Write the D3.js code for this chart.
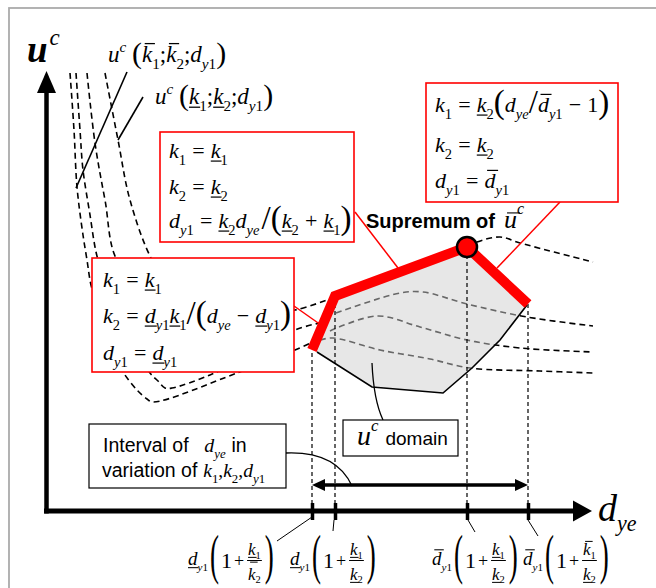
<!DOCTYPE html>
<html><head><meta charset="utf-8">
<script src="https://cdn.jsdelivr.net/npm/d3@7"></script>
<style>html,body{margin:0;padding:0;background:#fff;}svg{display:block;}</style>
</head><body>
<script>
const SERIF = "'Liberation Serif','Times New Roman',serif";
const SANS = "'Liberation Sans',Arial,sans-serif";

// ---------- data (x: d_ye units, y: u^c units, origin at the axes corner) ----------
const tickX = [267, 290, 422, 483];
const upperBound = [[267,161],[290,215],[422,264],[483,207]];
const lowerBound = [[272,159],[327,124],[398,118],[427,143],[455,171],[482,206]];
const isoA_left  = [[42,438],[50,368],[60,311],[72,251],[105,221],[205,196],[250,201],[285,212]];
const isoA_right = [[291,198],[355,218],[378,219],[422,207],[482,194],[548,185]];
const isoB_left  = [[31,438],[35,381],[38,341],[45,296],[50,264],[53,251],[65,211],[90,161],[105,138],[113,130],[120,123],[127,123],[165,136],[215,161],[250,181],[279,189]];
const isoB_right = [[285,180],[332,195],[375,184],[422,171],[475,163],[548,159]];
const isoC_left  = [[25,438],[29,381],[32,324],[38,276],[42,251],[46,226],[55,196],[67,161],[78,139],[92,121],[102,112],[108,109],[192,138],[250,161],[270,170]];
const isoC_right = [[275,171],[288,173],[335,161],[385,152],[425,143],[495,140],[548,138]];
const isoD       = [[60,438],[73,371],[85,311],[107,251],[135,211],[175,181]];
const isoTop     = [[423,264],[432,269],[455,274],[475,268],[548,249]];
const solidUpper = [[82,439],[31,323]];
const solidLower = [[98,414],[73,371]];
const intervalY = 26;
// tick label decorations: ul = underline (lower bound), ol = overline (upper bound)
const labelD  = ["ul","ul","ol","ol"];
const labelK1 = ["ul","ul","ul","ol"];
const labelK2 = ["ol","ul","ul","ul"];

const W = 656, H = 588;
const x = d3.scaleLinear().domain([0,550]).range([45,595]);
const y = d3.scaleLinear().domain([0,440]).range([511,71]);

const svg = d3.select("body").append("svg").attr("width",W).attr("height",H);
svg.append("rect").attr("width",W).attr("height",H).attr("fill","#fff");
svg.append("rect").attr("x",9).attr("y",8).attr("width",720).attr("height",720)
  .attr("fill","none").attr("stroke","#ababab").attr("stroke-width",1.8);

// ---------- text helper ----------
const v = (s,o={})=>Object.assign({s,i:true},o);
const n = (s,o={})=>Object.assign({s},o);
const sb = (s,o={})=>Object.assign({s,f:0.66,dy:0.3},o);
const isb = (s,o={})=>Object.assign({s,i:true,f:0.66,dy:0.3},o);
const sp = (s,o={})=>Object.assign({s,i:true,f:0.66,dy:-0.45},o);
const G = k=>({gap:k});
const OP = s=>[G(0.28), n(s), G(0.28)];
const LP = ()=>n("(",{f:1.5,dy:0.06}), RP = ()=>n(")",{f:1.5,dy:0.06}), SL = ()=>n("/",{f:1.5,dy:0.06});

function eq(g, x0, y0, toks, fs) {
  let cx = x0;
  toks.forEach(t => {
    if (t.gap !== undefined) { cx += t.gap*fs; return; }
    const sz = fs*(t.f||1);
    const yy = y0 + (t.dy||0)*fs;
    const el = g.append("text").attr("x",cx).attr("y",yy)
      .attr("font-family", t.sans?SANS:SERIF).attr("font-size",sz)
      .attr("font-style", t.i?"italic":"normal").attr("font-weight", t.b?"bold":"normal")
      .attr("fill","#000").text(t.s);
    const w = el.node().getComputedTextLength();
    const lw = Math.max(1, fs*0.055);
    if (t.ul) { const uy = y0 + fs*0.14;
      g.append("line").attr("x1",cx).attr("x2",cx+w+1).attr("y1",uy).attr("y2",uy)
       .attr("stroke","#000").attr("stroke-width",lw); }
    if (t.ol) { const oy = yy - sz*(t.oly||0.8); const sh = t.i ? sz*0.12 : 0;
      g.append("line").attr("x1",cx+sh).attr("x2",cx+w+sh).attr("y1",oy).attr("y2",oy)
       .attr("stroke","#000").attr("stroke-width",lw); }
    cx += w;
  });
  return cx;
}

// ---------- curves ----------
const curveLine = d3.line().x(d=>x(d[0])).y(d=>y(d[1])).curve(d3.curveCatmullRom.alpha(0.5));
const linLine = d3.line().x(d=>x(d[0])).y(d=>y(d[1]));
[isoA_left, isoA_right, isoB_left, isoB_right, isoC_left, isoC_right, isoD, isoTop].forEach(c => {
  svg.append("path").attr("d", curveLine(c)).attr("fill","none").attr("stroke","#000")
    .attr("stroke-width",1.6).attr("stroke-dasharray","6,4");
});
[solidUpper, solidLower].forEach(c => {
  svg.append("path").attr("d", linLine(c)).attr("fill","none").attr("stroke","#000").attr("stroke-width",1.6);
});

// domain
const poly = upperBound.concat(lowerBound.slice().reverse());
svg.append("path").attr("d", linLine(poly)+"Z").attr("fill","#cfcfcf").attr("fill-opacity",0.5);
svg.append("path").attr("d", linLine(lowerBound)).attr("fill","none").attr("stroke","#000").attr("stroke-width",1.6);

// vertical dashed
upperBound.forEach(p => {
  svg.append("line").attr("x1",x(p[0])).attr("x2",x(p[0])).attr("y1",y(0)).attr("y2",y(p[1]))
    .attr("stroke","#000").attr("stroke-width",1.2).attr("stroke-dasharray","4,3");
});
svg.append("path").attr("d", linLine(upperBound)).attr("fill","none").attr("stroke","#ff0000")
  .attr("stroke-width",10).attr("stroke-linejoin","miter");
svg.append("circle").attr("cx",x(upperBound[2][0])).attr("cy",y(upperBound[2][1])).attr("r",10)
  .attr("fill","#ff0000").attr("stroke","#000").attr("stroke-width",2.5);

// ---------- red connectors & boxes ----------
const red = "#ff0000";
[[355,212,398,268],[560,202,497,268],[294,306,321,325]].forEach(l => {
  svg.append("line").attr("x1",l[0]).attr("y1",l[1]).attr("x2",l[2]).attr("y2",l[3]).attr("stroke",red).attr("stroke-width",1.5);
});
function box(x0,y0,x1,y1,col) {
  svg.append("rect").attr("x",x0).attr("y",y0).attr("width",x1-x0).attr("height",y1-y0)
    .attr("fill","#fff").attr("stroke",col).attr("stroke-width",col===red?1.6:1.2);
}
box(160,132,354,242,red);
box(426,83,618,202,red);
box(92,258,294,372,red);

const FS = 22;
eq(svg,169,158,[v("k"),sb("1"),...OP("="),v("k",{ul:1}),sb("1")],FS);
eq(svg,169,194,[v("k"),sb("2"),...OP("="),v("k",{ul:1}),sb("2")],FS);
eq(svg,169,228,[v("d"),isb("y"),sb("1"),...OP("="),v("k",{ul:1}),sb("2"),v("d"),isb("y"),isb("e"),G(0.1),SL(),LP(),v("k",{ul:1}),sb("2"),...OP("+"),v("k",{ul:1}),sb("1"),RP()],FS);

eq(svg,435,112,[v("k"),sb("1"),...OP("="),v("k",{ul:1}),sb("2"),LP(),v("d"),isb("y"),isb("e"),SL(),v("d",{ol:1}),isb("y"),sb("1"),...OP("−"),n("1"),RP()],FS);
eq(svg,435,152,[v("k"),sb("2"),...OP("="),v("k",{ul:1}),sb("2")],FS);
eq(svg,435,188,[v("d"),isb("y"),sb("1"),...OP("="),v("d",{ol:1}),isb("y"),sb("1")],FS);

eq(svg,103,287,[v("k"),sb("1"),...OP("="),v("k",{ul:1}),sb("1")],FS);
eq(svg,103,323,[v("k"),sb("2"),...OP("="),v("d",{ul:1}),isb("y"),sb("1"),v("k",{ul:1}),sb("1"),SL(),LP(),v("d"),isb("y"),isb("e"),...OP("−"),v("d",{ul:1}),isb("y"),sb("1"),RP()],FS);
eq(svg,103,360,[v("d"),isb("y"),sb("1"),...OP("="),v("d",{ul:1}),isb("y"),sb("1")],FS);

// top-left curve labels
eq(svg,108,62,[v("u"),sp("c"),G(0.25),n("(",{f:1.3,dy:0.06}),v("k",{ol:1}),sb("1"),n(";"),v("k",{ol:1}),sb("2"),n(";"),v("d"),isb("y"),sb("1"),n(")",{f:1.3,dy:0.06})],23);
eq(svg,155,104,[v("u"),sp("c"),G(0.25),n("(",{f:1.3,dy:0.06}),v("k",{ul:1}),sb("1"),n(";"),v("k",{ul:1}),sb("2"),n(";"),v("d"),isb("y"),sb("1"),n(")",{f:1.3,dy:0.06})],23);

// supremum label
eq(svg,366,228,[n("Supremum of",{sans:1,b:1}),G(0.45),v("u",{ol:1,oly:0.58,f:1.3}),sp("c",{f:0.8,dy:-0.7})],20);

// ---------- axes ----------
svg.append("line").attr("x1",x(1.5)).attr("x2",x(1.5)).attr("y1",y(0)+2.5).attr("y2",y(418))
  .attr("stroke","#000").attr("stroke-width",4.5);
svg.append("path").attr("d",`M${x(1.5)-9.5},${y(418)}L${x(1.5)+9.5},${y(418)}L${x(1.5)},${y(440)}Z`).attr("fill","#000");
svg.append("line").attr("x1",x(-1)).attr("x2",x(528)).attr("y1",y(0)).attr("y2",y(0))
  .attr("stroke","#000").attr("stroke-width",5);
svg.append("path").attr("d",`M${x(528)},${y(0)-10.5}L${x(528)},${y(0)+10.5}L${x(547)},${y(0)}Z`).attr("fill","#000");
const ax = svg.append("g").attr("transform",`translate(0,${y(0)})`)
  .call(d3.axisBottom(x).tickValues(tickX).tickSizeInner(9).tickSizeOuter(0).tickFormat(()=>""));
ax.select(".domain").remove();
ax.selectAll(".tick line").attr("y1",-8).attr("stroke","#000").attr("stroke-width",3.5);

eq(svg,27,62,[v("u",{b:1}),G(0.05),sp("c",{f:0.62,dy:-0.47})],37);
eq(svg,598,521,[v("d"),isb("y",{f:0.58,dy:0.25}),isb("e",{f:0.58,dy:0.25})],38);

// interval double arrow
const ia = x(tickX[0]), ib = x(tickX[3]), iy = y(intervalY);
svg.append("line").attr("x1",ia+8).attr("x2",ib-8).attr("y1",iy).attr("y2",iy).attr("stroke","#000").attr("stroke-width",3.5);
svg.append("path").attr("d",`M${ia},${iy}L${ia+13},${iy-6}L${ia+13},${iy+6}Z`).attr("fill","#000");
svg.append("path").attr("d",`M${ib},${iy}L${ib-13},${iy-6}L${ib-13},${iy+6}Z`).attr("fill","#000");

// annotation boxes
svg.append("path").attr("d","M286,453Q336,451 352,486").attr("fill","none").attr("stroke","#000").attr("stroke-width",1.3);
svg.append("path").attr("d","M372,363C373,386 376,405 383,420").attr("fill","none").attr("stroke","#000").attr("stroke-width",1.3);
box(89,424,286,488,"#000");
box(343,420,458,456,"#000");
eq(svg,103,452,[n("Interval of",{sans:1}),G(0.8),v("d",{f:1.02}),isb("y"),isb("e"),G(0.3),n("in",{sans:1})],19.5);
eq(svg,102,477,[n("variation of",{sans:1}),G(0.3),v("k"),sb("1"),n(","),v("k"),sb("2"),n(","),v("d"),isb("y"),sb("1")],19.5);
eq(svg,357,445,[v("u"),sp("c",{f:0.6,dy:-0.5}),G(0.25),n("domain",{sans:1,f:0.68})],28);

// ---------- tick labels ----------
const labelX = [188, 290, 432, 523];
const leaders = [[277,541,312,517],[334,520,333,531],[468,520,475,532],[528,520,538,536]];
leaders.forEach(l => svg.append("line").attr("x1",l[0]).attr("y1",l[1]).attr("x2",l[2]).attr("y2",l[3]).attr("stroke","#000").attr("stroke-width",1));

function bigParen(g, cx, ch) {
  const t = g.append("text").attr("transform",`translate(${cx},573) scale(0.5,1)`)
    .attr("font-family",SERIF).attr("font-size",54).text(ch);
  return cx + t.node().getComputedTextLength()*0.5;
}
labelX.forEach((x0,i) => {
  const g = svg.append("g");
  let cx = eq(g,x0,565,[v("d",{[labelD[i]]:1}),isb("y",{f:0.58}),sb("1",{f:0.58})],19);
  cx = bigParen(g, cx+2, "(") + 2;
  cx = eq(g,cx,568,[n("1")],22) + 2;
  cx = eq(g,cx,567,[n("+")],18) + 3;
  const num = g.append("g"), den = g.append("g");
  const nw = eq(num,0,555,[v("k",{[labelK1[i]]:1}),sb("1",{f:0.62,dy:0.22})],17);
  const dw = eq(den,0,580,[v("k",{[labelK2[i]]:1, oly:1.05}),sb("2",{f:0.62,dy:0.2})],17);
  const fw = Math.max(nw,dw)+2;
  num.attr("transform",`translate(${cx+(fw-nw)/2},0)`);
  den.attr("transform",`translate(${cx+(fw-dw)/2},0)`);
  g.append("line").attr("x1",cx).attr("x2",cx+fw).attr("y1",560.5).attr("y2",560.5).attr("stroke","#000").attr("stroke-width",1);
  cx += fw + 3;
  bigParen(g, cx, ")");
});
</script>
</body></html>
